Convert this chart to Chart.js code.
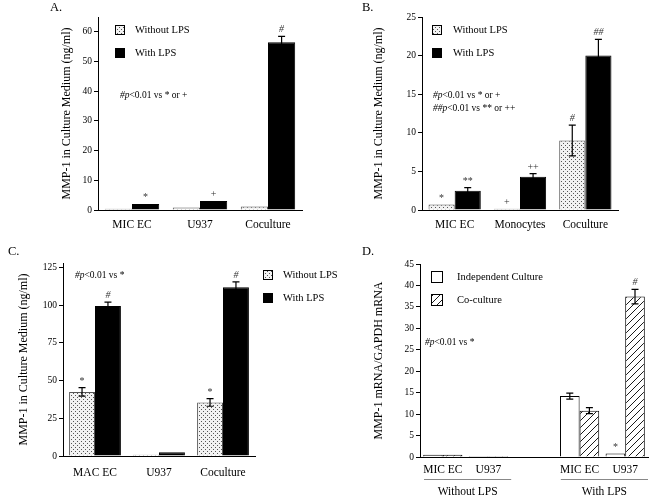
<!DOCTYPE html>
<html lang="en">
<head>
<meta charset="UTF-8">
<title>MMP-1 panels</title>
<script src="https://cdn.jsdelivr.net/npm/chart.js@4"></script>
<style>
  body { margin: 0; background: #fff; }
  .wrap { position: relative; width: 649px; height: 499px; }
  .wrap canvas { position: absolute; left: 0; top: 0; }
</style>
</head>
<body>
<div class="wrap">
  <canvas id="chartA" width="649" height="499"></canvas>
  <canvas id="chartB" width="649" height="499"></canvas>
  <canvas id="chartC" width="649" height="499"></canvas>
  <canvas id="chartD" width="649" height="499"></canvas>
</div>
<script>
// ---- data ----
// A
const catsA = ['MIC EC', 'U937', 'Coculture'];
const withoutA = [0.4, 0.8, 1.2];
const withoutErrA = [0, 0, 0];
const withoutMarkA = ['', '', ''];
const withA = [2.0, 3.0, 56.5];
const withErrA = [0, 0, 2.0];
const withMarkA = ['*', '+', '#'];
const ticksA = [0, 10, 20, 30, 40, 50, 60];

// B
const catsB = ['MIC EC', 'Monocytes', 'Coculture'];
const withoutB = [0.7, 0.15, 9.0];
const withoutErrB = [0, 0, 2.0];
const withoutMarkB = ['*', '+', '#'];
const withB = [2.5, 4.3, 20.0];
const withErrB = [0.4, 0.4, 2.1];
const withMarkB = ['**', '++', '##'];
const ticksB = [0, 5, 10, 15, 20, 25];

// C
const catsC = ['MAC EC', 'U937', 'Coculture'];
const withoutC = [42.5, 0.9, 35.5];
const withoutErrC = [2.8, 0, 2.5];
const withoutMarkC = ['*', '', '*'];
const withC = [99.5, 2.5, 112];
const withErrC = [2.5, 0, 3.5];
const withMarkC = ['#', '', '#'];
const ticksC = [0, 25, 50, 75, 100, 125];

// D
const catsD = ['MIC EC', 'U937', '', 'MIC EC', 'U937'];
const indepD = [0.5, 0.25, null, 14.2, 0.8];
const indepErrD = [0, 0, 0, 0.7, 0];
const indepMarkD = ['', '', '', '', '*'];
const coD = [0.5, 0.25, null, 10.8, 37.4];
const coErrD = [0, 0, 0, 0.7, 1.7];
const coMarkD = ['', '', '', '', '#'];
const ticksD = [0, 5, 10, 15, 20, 25, 30, 35, 40, 45];
const groupsD = ['Without LPS', 'With LPS'];
const groupRangeD = [[0, 1], [3, 4]];

const lpsLabels = ['Without LPS', 'With LPS'];
const cultureLabels = ['Independent Culture', 'Co-culture'];

const FONT = "'Liberation Serif', 'Times New Roman', serif";

// ---- fill patterns ----
function dotPattern() {
  const c = document.createElement('canvas');
  c.width = 4; c.height = 4;
  const g = c.getContext('2d');
  g.fillStyle = '#f2f2f2';
  g.fillRect(0, 0, 4, 4);
  g.fillStyle = '#555';
  g.fillRect(1, 1, 1, 1);
  g.fillRect(3, 3, 1, 1);
  return g.createPattern(c, 'repeat');
}
function hatchPattern() {
  const c = document.createElement('canvas');
  c.width = 7; c.height = 7;
  const g = c.getContext('2d');
  g.fillStyle = '#fff';
  g.fillRect(0, 0, 7, 7);
  g.strokeStyle = '#000';
  g.lineWidth = 0.9;
  g.beginPath();
  g.moveTo(-1, 8); g.lineTo(8, -1);
  g.moveTo(-1, 1); g.lineTo(1, -1);
  g.moveTo(6, 8); g.lineTo(8, 6);
  g.stroke();
  return g.createPattern(c, 'repeat');
}
const dots = dotPattern();
const hatch = hatchPattern();

function drawNote(ctx, text, x, y) {
  // "#p" part italic, rest upright
  const k = text.indexOf('p') + 1;
  ctx.textAlign = 'left';
  ctx.textBaseline = 'middle';
  ctx.fillStyle = '#000';
  ctx.font = 'italic 9.5px ' + FONT;
  ctx.fillText(text.slice(0, k), x, y);
  const w = ctx.measureText(text.slice(0, k)).width;
  ctx.font = '9.5px ' + FONT;
  ctx.fillText(text.slice(k), x + w, y);
}

// error bars, significance marks, legend, notes, panel letter
const panelPlugin = {
  id: 'panel',
  afterDatasetsDraw(chart, args, opts) {
    const ctx = chart.ctx;
    const ys = chart.scales.y;
    ctx.save();
    chart.data.datasets.forEach((ds, i) => {
      const meta = chart.getDatasetMeta(i);
      meta.data.forEach((bar, j) => {
        const v = ds.data[j];
        if (v == null) return;
        const e = ds.errors[j];
        let top = bar.y;
        if (e) {
          const yt = ys.getPixelForValue(v + e);
          const yb = ys.getPixelForValue(v - e);
          const cw = 3.5;
          ctx.strokeStyle = '#000';
          ctx.lineWidth = 1.2;
          ctx.beginPath();
          ctx.moveTo(bar.x, yb); ctx.lineTo(bar.x, yt);
          ctx.moveTo(bar.x - cw, yt); ctx.lineTo(bar.x + cw, yt);
          ctx.moveTo(bar.x - cw, yb); ctx.lineTo(bar.x + cw, yb);
          ctx.stroke();
          top = yt;
        }
        const m = ds.marks[j];
        if (m) {
          ctx.fillStyle = '#333';
          ctx.font = (m[0] === '#' ? 'italic ' : '') + '10px ' + FONT;
          ctx.textAlign = 'center';
          ctx.textBaseline = 'alphabetic';
          ctx.fillText(m, bar.x, top - 4);
        }
      });
    });

    // legend
    const lg = opts.legend;
    chart.data.datasets.forEach((ds, i) => {
      const y = lg.y[i];
      ctx.fillStyle = ds.backgroundColor;
      ctx.fillRect(lg.x, y - lg.box / 2, lg.box, lg.box);
      ctx.strokeStyle = '#000';
      ctx.lineWidth = 1;
      ctx.strokeRect(lg.x + 0.5, y - lg.box / 2 + 0.5, lg.box - 1, lg.box - 1);
      ctx.fillStyle = '#000';
      ctx.font = '10.5px ' + FONT;
      ctx.textAlign = 'left';
      ctx.textBaseline = 'middle';
      ctx.fillText(ds.label, lg.textX, y);
    });

    // notes
    opts.notes.forEach(n => drawNote(ctx, n.text, n.x, n.y));

    // panel letter
    ctx.fillStyle = '#000';
    ctx.font = '12.5px ' + FONT;
    ctx.textAlign = 'left';
    ctx.textBaseline = 'middle';
    ctx.fillText(opts.letter.text, opts.letter.x, opts.letter.y);

    // group underlines (panel D)
    if (opts.groups) {
      const xs = chart.scales.x;
      const half = (xs.getPixelForValue(1) - xs.getPixelForValue(0)) / 2;
      opts.groups.labels.forEach((g, i) => {
        const r = opts.groups.ranges[i];
        const x0 = xs.getPixelForValue(r[0]) - half + 4;
        const x1 = Math.min(xs.getPixelForValue(r[1]) + half, chart.width - 1);
        ctx.strokeStyle = '#888';
        ctx.lineWidth = 1;
        ctx.beginPath();
        ctx.moveTo(x0, opts.groups.lineY + 0.5);
        ctx.lineTo(x1, opts.groups.lineY + 0.5);
        ctx.stroke();
        ctx.fillStyle = '#000';
        ctx.font = '11.5px ' + FONT;
        ctx.textAlign = 'center';
        ctx.textBaseline = 'middle';
        ctx.fillText(g, (x0 + x1) / 2, opts.groups.textY);
      });
    }
    ctx.restore();
  }
};

function makeChart(id, cfg) {
  return new Chart(document.getElementById(id), {
    type: 'bar',
    data: { labels: cfg.labels, datasets: cfg.datasets },
    options: {
      responsive: false,
      animation: false,
      events: [],
      layout: { padding: cfg.padding },
      datasets: { bar: { categoryPercentage: cfg.catPct, barPercentage: 1 } },
      plugins: {
        legend: { display: false },
        tooltip: { enabled: false },
        panel: cfg.panel
      },
      scales: {
        x: {
          grid: { display: false, drawTicks: false, tickLength: 0 },
          border: { display: true, color: '#000', width: 1 },
          ticks: {
            color: '#000', font: { family: FONT, size: 11.5 },
            padding: cfg.xPad, maxRotation: 0, autoSkip: false
          },
          afterFit: s => { s.height = 40; }
        },
        y: {
          min: 0,
          max: cfg.yMax,
          afterBuildTicks: s => { s.ticks = cfg.yTicks.map(v => ({ value: v })); },
          grid: { drawOnChartArea: false, drawTicks: true, tickLength: 4, color: '#000' },
          border: { display: true, color: '#000', width: 1 },
          ticks: { color: '#000', font: { family: FONT, size: 9.5 }, padding: 2 },
          title: {
            display: true, text: cfg.yTitle, color: '#000',
            font: { family: FONT, size: 12 }, padding: { top: 0, bottom: 0 }
          },
          afterFit: s => { s.width = cfg.yWidth; }
        }
      }
    },
    plugins: [panelPlugin]
  });
}

function lpsSets(wo, woErr, woMark, w, wErr, wMark) {
  return [
    { label: lpsLabels[0], data: wo, errors: woErr, marks: woMark,
      backgroundColor: dots, borderColor: '#555', borderWidth: 1 },
    { label: lpsLabels[1], data: w, errors: wErr, marks: wMark,
      backgroundColor: '#000', borderColor: '#000', borderWidth: 1 }
  ];
}

const mediumTitle = 'MMP-1 in Culture Medium (ng/ml)';

makeChart('chartA', {
  labels: catsA,
  datasets: lpsSets(withoutA, withoutErrA, withoutMarkA, withA, withErrA, withMarkA),
  padding: { left: 60, right: 347, top: 17, bottom: 249 },
  yWidth: 38, yMax: 65, yTicks: ticksA, yTitle: mediumTitle, xPad: 8, catPct: 0.8,
  panel: {
    letter: { text: 'A.', x: 50, y: 8 },
    legend: { x: 115, y: [30, 53], box: 10, textX: 135 },
    notes: [{ text: '#p<0.01 vs * or +', x: 120, y: 95 }]
  }
});

makeChart('chartB', {
  labels: catsB,
  datasets: lpsSets(withoutB, withoutErrB, withoutMarkB, withB, withErrB, withMarkB),
  padding: { left: 372, right: 31, top: 17, bottom: 249 },
  yWidth: 50, yMax: 25, yTicks: ticksB, yTitle: mediumTitle, xPad: 8, catPct: 0.8,
  panel: {
    letter: { text: 'B.', x: 362, y: 8 },
    legend: { x: 432, y: [30, 53], box: 10, textX: 453 },
    notes: [
      { text: '#p<0.01 vs * or +', x: 433, y: 95 },
      { text: '##p<0.01 vs ** or ++', x: 433, y: 108 }
    ]
  }
});

makeChart('chartC', {
  labels: catsC,
  datasets: lpsSets(withoutC, withoutErrC, withoutMarkC, withC, withErrC, withMarkC),
  padding: { left: 17, right: 394, top: 263, bottom: 3 },
  yWidth: 46, yMax: 128, yTicks: ticksC, yTitle: mediumTitle, xPad: 10, catPct: 0.81,
  panel: {
    letter: { text: 'C.', x: 8, y: 252 },
    legend: { x: 263, y: [275, 298], box: 10, textX: 283 },
    notes: [{ text: '#p<0.01 vs *', x: 75, y: 275 }]
  }
});

makeChart('chartD', {
  labels: catsD,
  datasets: [
    { label: cultureLabels[0], data: indepD, errors: indepErrD, marks: indepMarkD,
      backgroundColor: '#fff', borderColor: '#000', borderWidth: 1 },
    { label: cultureLabels[1], data: coD, errors: coErrD, marks: coMarkD,
      backgroundColor: hatch, borderColor: '#000', borderWidth: 1 }
  ],
  padding: { left: 372, right: 1, top: 264, bottom: 2 },
  yWidth: 48, yMax: 45, yTicks: ticksD, yTitle: 'MMP-1 mRNA/GAPDH mRNA', xPad: 6, catPct: 0.86,
  panel: {
    letter: { text: 'D.', x: 362, y: 252 },
    legend: { x: 431, y: [277, 300], box: 12, textX: 457 },
    notes: [{ text: '#p<0.01 vs *', x: 425, y: 342 }],
    groups: { labels: groupsD, ranges: groupRangeD, lineY: 479, textY: 492 }
  }
});
</script>
</body>
</html>
